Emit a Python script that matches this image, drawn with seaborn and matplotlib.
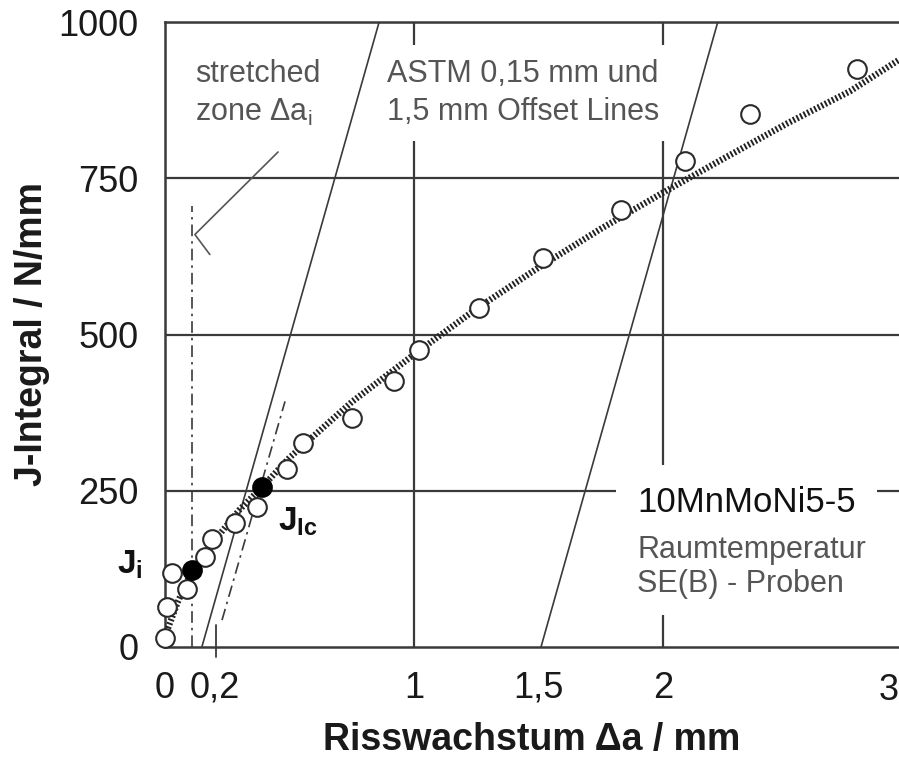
import matplotlib
matplotlib.use("Agg")
import matplotlib.pyplot as plt
import seaborn as sns
import pandas as pd

# ---- data ----
da_open = [0.00, 0.01, 0.03, 0.09, 0.16, 0.19, 0.28, 0.37, 0.49, 0.555, 0.75, 0.92,
           1.02, 1.26, 1.52, 1.83, 2.09, 2.35, 2.78]
J_open = [14, 64, 118, 93, 144, 173, 199, 224, 285, 327, 367, 425,
          476, 543, 623, 700, 777, 853, 925]

da_key = [0.11, 0.39]
J_key = [123, 256]

da_fit = [0.012, 0.05, 0.11, 0.2, 0.3, 0.39, 0.5, 0.75, 1.0, 1.25, 1.5, 1.75, 2.0, 2.25, 2.5, 2.75, 2.95]
J_fit = [30, 71, 123, 171, 220, 256, 303, 392, 468, 541, 607, 669, 727, 783, 838, 889, 940]

off015_x = [0.148, 0.86]
off015_y = [0, 1000]
off15_x = [1.51, 2.22]
off15_y = [0, 1000]
off02_x = [0.229, 0.482]
off02_y = [43, 393]
szw_x = [0.11, 0.11]
szw_y = [0, 705]
pointer_x = [0.454, 0.12, 0.18]
pointer_y = [792, 660, 628]

xticks = [0, 0.2, 1, 1.5, 2]
xticklabels = ["0", "0,2", "1", "1,5", "2"]
yticks = [0, 250, 500, 750, 1000]
yticklabels = ["0", "250", "500", "750", "1000"]

# ---- style ----
sns.set_style("white")
plt.rcParams["font.family"] = ["Liberation Sans", "DejaVu Sans"]
plt.rcParams["mathtext.fontset"] = "custom"
plt.rcParams["mathtext.rm"] = "Liberation Sans"
plt.rcParams["mathtext.it"] = "Liberation Sans"
plt.rcParams["mathtext.bf"] = "Liberation Sans:bold"

W, H = 899, 764
fig = plt.figure(figsize=(W / 100, H / 100), dpi=100)
ax = fig.add_axes([165 / W, (H - 647) / H, 734 / W, 625 / H])

dark = "#3a3a3a"
gray = "#555555"

# grid lines
for yv in [250, 500, 750, 1000]:
    ax.axhline(yv, color=dark, lw=1.6, zorder=1)
for xv in [1, 2]:
    ax.axvline(xv, color=dark, lw=1.6, zorder=1)

# offset lines
ax.plot(off015_x, off015_y, color=dark, lw=1.2, zorder=4)
ax.plot(off15_x, off15_y, color=dark, lw=1.2, zorder=4)
ax.plot(off02_x, off02_y, color=dark, lw=1.2, zorder=4, linestyle=(0, (7, 3, 1.5, 3)))
ax.plot(szw_x, szw_y, color=dark, lw=1.2, zorder=4, linestyle=(0, (7, 3, 1.5, 3)))
ax.plot(pointer_x, pointer_y, color=gray, lw=1.2, zorder=4)
ax.plot([0.205, 0.205], [-16, 35], color=dark, lw=1.3, zorder=4, clip_on=False)

# fitted R-curve (hatched rope look)
fit_df = pd.DataFrame({"da": da_fit, "J": J_fit})
sns.lineplot(data=fit_df, x="da", y="J", ax=ax, color="#222222", lw=4.6, sort=False, zorder=5)
ax.lines[-1].set_linestyle((0, (0.3, 0.32)))
ax.lines[-1].set_dash_capstyle("butt")

# data points
sns.scatterplot(x=da_open, y=J_open, ax=ax, s=180, facecolor="white", edgecolor="#2a2a2a",
                linewidth=1.5, zorder=6, clip_on=False)
sns.scatterplot(x=da_key, y=J_key, ax=ax, s=180, color="black", edgecolor="black",
                linewidth=1.5, zorder=7, clip_on=False)

# axes
ax.set_xlim(0, 734 / 249)
ax.set_ylim(0, 1000)
ax.set_xticks(xticks)
ax.set_xticklabels(xticklabels)
ax.set_yticks(yticks)
ax.set_yticklabels(yticklabels)
ax.tick_params(axis="both", length=0, labelsize=26, colors="#1a1a1a")
ax.tick_params(axis="y", pad=19)
ax.tick_params(axis="x", pad=17)
for s in ["left", "bottom", "top"]:
    ax.spines[s].set_color(dark)
    ax.spines[s].set_linewidth(1.8)
ax.spines["right"].set_visible(False)

ax.set_xlabel("Risswachstum Δa / mm", fontsize=27, fontweight="bold", color="#1a1a1a", labelpad=12)
ax.set_ylabel("J-Integral / N/mm", fontsize=27, fontweight="bold", color="#1a1a1a", labelpad=6)

ax.text(1.0, -0.042, "3", transform=ax.transAxes, ha="right", va="top", fontsize=26,
        color="#1a1a1a", clip_on=False)

# annotations
ax.text(0.12, 886, "stretched\nzone Δa$_\\mathrm{i}$", fontsize=22, color=gray, ha="left",
        va="center", linespacing=1.35, zorder=3)
ax.text(0.892, 886, "ASTM 0,15 mm und\n1,5 mm Offset Lines", fontsize=22, color=gray, ha="left",
        va="center", linespacing=1.35, zorder=3,
        bbox=dict(boxstyle="square,pad=0.45", facecolor="white", edgecolor="none"))
ax.text(1.896, 231, "10MnMoNi5-5", fontsize=25, color="#111111", ha="left", va="center", zorder=3,
        bbox=dict(boxstyle="square,pad=0.6", facecolor="white", edgecolor="none"))
ax.text(1.896, 128, "Raumtemperatur\nSE(B) - Proben", fontsize=22, color=gray, ha="left",
        va="center", linespacing=1.2, zorder=3,
        bbox=dict(boxstyle="square,pad=0.5", facecolor="white", edgecolor="none"))

ax.text(-0.193, 131, "$\\mathbf{J}_\\mathbf{i}$", fontsize=24, color="#111111", ha="left",
        va="center", clip_on=False)
ax.text(0.454, 200, "$\\mathbf{J}_\\mathbf{Ic}$", fontsize=24, color="#111111", ha="left",
        va="center")

fig.savefig("out.png", dpi=100)
